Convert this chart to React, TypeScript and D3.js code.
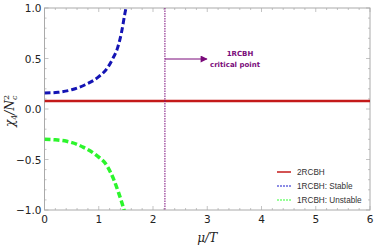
import * as d3 from "d3";
import React from "react";

// values
const muT = [0, 0.25, 0.5, 0.75, 1.0, 1.15, 1.26, 1.35, 1.42, 1.48, 1.52];
const stable = [0.158, 0.165, 0.19, 0.24, 0.32, 0.4, 0.5, 0.61, 0.76, 0.94, 1.05];
const unstableX = [0, 0.2, 0.41, 0.6, 0.72, 0.96, 1.15, 1.27, 1.36, 1.45, 1.49];
const unstable = [-0.3, -0.305, -0.32, -0.35, -0.38, -0.46, -0.56, -0.69, -0.82, -0.97, -1.05];
const rcbh2 = 0.08;
const criticalMu = 2.22;
const xTicks = [0, 1, 2, 3, 4, 5, 6];
const yTicks = [-1, -0.5, 0, 0.5, 1];
const legendItems = [
  { label: "2RCBH", color: "#c41a1a", dash: "" },
  { label: "1RCBH: Stable", color: "#1a1acc", dash: "2,1" },
  { label: "1RCBH: Unstable", color: "#33ff33", dash: "2,1" },
];

const W = 374;
const H = 247;
const margin = { top: 8, right: 4, bottom: 37, left: 44.5 };

const App = () => {
  const x = d3.scaleLinear().domain([0, 6]).range([margin.left, W - margin.right]);
  const y = d3.scaleLinear().domain([-1, 1]).range([H - margin.bottom, margin.top]);
  const [x0, x1] = x.range();
  const [y0, y1] = y.range(); // y0 bottom, y1 top

  const line = d3
    .line<[number, number]>()
    .x((d) => x(d[0]))
    .y((d) => y(d[1]))
    .curve(d3.curveMonotoneX);
  const stablePath = line(muT.map((m, i) => [m, stable[i]]));
  const unstablePath = line(unstableX.map((m, i) => [m, unstable[i]]));

  const xMinor = d3.range(0, 6.001, 0.2);
  const yMinor = d3.range(-1, 1.001, 0.1);
  const gray = "#aaaaaa";
  const fmt = (v: number) => (v < 0 ? "\u2212" : "") + Math.abs(v).toFixed(1);

  const cx = x(criticalMu);
  const arrowY = 59;
  const purple = "#7a0a7a";

  return (
    <svg
      width={W}
      height={H}
      style={{ position: "absolute", left: 0, top: 0, background: "#fff" }}
      fontFamily="DejaVu Sans, sans-serif"
    >
      <defs>
        <clipPath id="plot">
          <rect x={x0} y={y1} width={x1 - x0} height={y0 - y1} />
        </clipPath>
        <marker id="arr" viewBox="0 0 10 10" refX="9" refY="5" markerWidth="11" markerHeight="7" orient="auto" markerUnits="userSpaceOnUse">
          <path d="M0,0 L10,5 L0,10 Z" fill={purple} />
        </marker>
      </defs>

      {/* frame */}
      <rect x={x0} y={y1} width={x1 - x0} height={y0 - y1} fill="none" stroke={gray} strokeWidth={1} />

      {/* x ticks */}
      {xMinor.map((t, i) => {
        const major = Math.abs(t - Math.round(t)) < 1e-6;
        const len = major ? 4 : 2;
        return (
          <g key={"xt" + i} stroke={gray} strokeWidth={0.7}>
            <line x1={x(t)} x2={x(t)} y1={y0} y2={y0 - len} />
            <line x1={x(t)} x2={x(t)} y1={y1} y2={y1 + len} />
          </g>
        );
      })}
      {yMinor.map((t, i) => {
        const major = Math.abs(t * 2 - Math.round(t * 2)) < 1e-6;
        const len = major ? 4 : 2;
        return (
          <g key={"yt" + i} stroke={gray} strokeWidth={0.7}>
            <line x1={x0} x2={x0 + len} y1={y(t)} y2={y(t)} />
            <line x1={x1} x2={x1 - len} y1={y(t)} y2={y(t)} />
          </g>
        );
      })}

      {/* tick labels */}
      {xTicks.map((t) => (
        <text key={"xl" + t} x={x(t)} y={y0 + 13} fontSize={10.5} textAnchor="middle" fill="#222">
          {t}
        </text>
      ))}
      {yTicks.map((t) => (
        <text key={"yl" + t} x={x0 - 3} y={y(t) + 4} fontSize={10.5} textAnchor="end" fill="#222">
          {fmt(t)}
        </text>
      ))}

      {/* axis labels */}
      <text x={(x0 + x1) / 2} y={H - 5} fontSize={12} textAnchor="middle" fontFamily="DejaVu Serif, serif" fontStyle="italic" fill="#222">
        μ/T
      </text>
      <text
        transform={`translate(14,${(y0 + y1) / 2 + 2}) rotate(-90)`}
        fontSize={12}
        textAnchor="middle"
        fontFamily="DejaVu Serif, serif"
        fontStyle="italic"
        fill="#222"
      >
        χ<tspan fontSize={8} dy={3} fontStyle="normal">4</tspan>
        <tspan dy={-3}>/N</tspan>
        <tspan fontSize={8} dy={-5} fontStyle="normal">2</tspan>
        <tspan fontSize={8} dx={-5} dy={8}>c</tspan>
      </text>

      {/* data */}
      <g clipPath="url(#plot)">
        <line x1={x0} x2={x1} y1={y(rcbh2)} y2={y(rcbh2)} stroke="#c41a1a" strokeWidth={2.5} />
        <path d={stablePath || ""} fill="none" stroke="#1414b4" strokeWidth={3} strokeDasharray="6,3" />
        <path d={unstablePath || ""} fill="none" stroke="#2cf52c" strokeWidth={3.5} strokeDasharray="6,3" />
        <line x1={cx} x2={cx} y1={y1} y2={y0} stroke={purple} strokeWidth={1} strokeDasharray="1.5,1" />
      </g>

      {/* annotation */}
      <line x1={cx} x2={cx + 42} y1={arrowY} y2={arrowY} stroke={purple} strokeWidth={1} markerEnd="url(#arr)" />
      <text x={240} y={55.5} fontSize={7} fontWeight="bold" textAnchor="middle" fill={purple}>
        1RCBH
      </text>
      <text x={235} y={67} fontSize={7} fontWeight="bold" textAnchor="middle" fill={purple}>
        critical point
      </text>

      {/* legend */}
      {legendItems.map((d, i) => {
        const ly = 172 + i * 14;
        return (
          <g key={d.label}>
            <line x1={277} x2={291} y1={ly} y2={ly} stroke={d.color} strokeWidth={d.dash ? 1.2 : 1.5} strokeDasharray={d.dash} />
            <text x={297} y={ly + 3} fontSize={8.2} fontFamily="Liberation Sans, Arial, sans-serif" fill="#333">
              {d.label}
            </text>
          </g>
        );
      })}
    </svg>
  );
};

export default App;
